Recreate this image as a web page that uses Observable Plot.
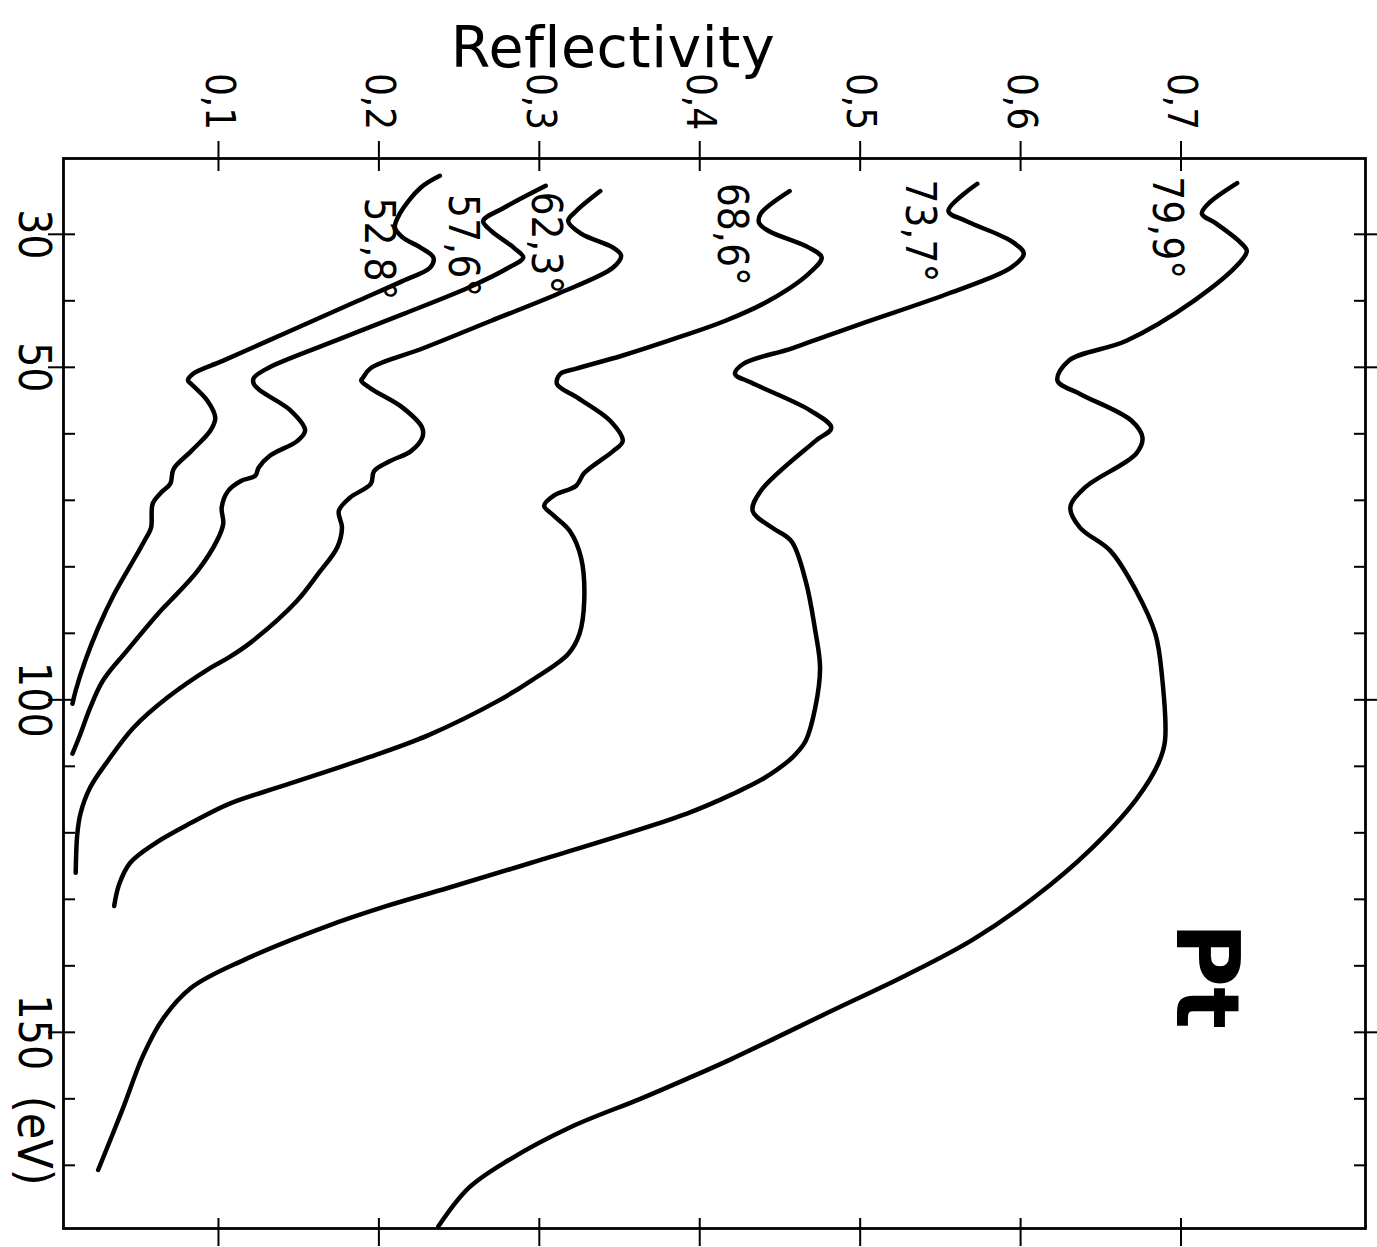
<!DOCTYPE html>
<html><head><meta charset="utf-8">
<script src="https://cdn.jsdelivr.net/npm/d3@7"></script>
<script src="https://cdn.jsdelivr.net/npm/@observablehq/plot@0.6"></script>
<style>
body{margin:0;background:#fff;}
#title{width:1226px;height:72px;text-align:center;font-family:"DejaVu Sans",sans-serif;font-size:57px;line-height:57px;padding-top:19px;box-sizing:border-box;color:#000;overflow:visible;white-space:nowrap;letter-spacing:0.5px}
</style></head><body>
<div id="title">Reflectivity</div>
<div id="chart"></div>
<script>
// Reflectivity axis ticks and labels
const rTicks = [0.1, 0.2, 0.3, 0.4, 0.5, 0.6, 0.7];
const rTickLabels = ["0,1", "0,2", "0,3", "0,4", "0,5", "0,6", "0,7"];
// Energy axis ticks (eV)
const eMajor = [30, 50, 100, 150];
const eMajorLabels = ["30", "50", "100", "150"];
const eMinor = [40, 60, 70, 80, 90, 110, 120, 130, 140, 160, 170];
const unitLabel = "(eV)";
const unitE = 166.3;

// Curves: angle of incidence labels
const angles = ["52,8°", "57,6°", "62,3°", "68,6°", "73,7°", "79,9°"];
const labelR = [0.200, 0.252, 0.304, 0.420, 0.537, 0.691];
const labelE = [32.2, 31.7, 31.3, 30.0, 29.5, 29.0];

// 52,8°
const e528 = [21.2, 23.0, 26.9, 29.0, 30.5, 32.0, 33.5, 35.0, 37.0, 40.0, 44.5, 49.0, 51.0, 52.0, 52.5, 55.0, 57.6, 59.5, 62.6, 65.3, 67.5, 68.9, 70.5, 74.1, 75.6, 78.6, 84.1, 89.2, 94.1, 98.6, 100.6];
const r528 = [0.238, 0.226, 0.213, 0.210, 0.215, 0.226, 0.234, 0.232, 0.215, 0.187, 0.145, 0.103, 0.084, 0.081, 0.083, 0.093, 0.098, 0.095, 0.083, 0.072, 0.070, 0.064, 0.059, 0.058, 0.055, 0.048, 0.035, 0.025, 0.017, 0.011, 0.009];
// 57,6°
const e576 = [22.7, 26.0, 28.0, 29.5, 32.0, 33.5, 35.0, 38.0, 42.0, 46.0, 50.1, 51.6, 52.5, 53.5, 56.5, 59.5, 61.1, 63.3, 65.1, 66.3, 67.1, 68.6, 71.1, 73.5, 76.1, 80.6, 85.1, 86.6, 92.6, 97.1, 101.2, 105.1, 108.1];
const r576 = [0.304, 0.278, 0.265, 0.270, 0.284, 0.290, 0.281, 0.256, 0.215, 0.173, 0.131, 0.122, 0.122, 0.126, 0.145, 0.154, 0.149, 0.132, 0.125, 0.123, 0.114, 0.106, 0.102, 0.103, 0.099, 0.087, 0.070, 0.064, 0.043, 0.028, 0.020, 0.014, 0.009];
// 62,3°
const e623 = [23.5, 26.5, 28.0, 29.9, 32.0, 33.2, 35.0, 38.9, 43.0, 47.1, 50.1, 51.6, 52.0, 53.2, 56.1, 59.1, 60.6, 62.6, 64.1, 65.6, 67.5, 69.6, 71.6, 74.1, 77.1, 81.1, 85.1, 91.4, 93.7, 95.2, 99.7, 104.2, 109.2, 113.2, 117.1, 120.2, 126.0];
const r623 = [0.338, 0.323, 0.318, 0.326, 0.346, 0.351, 0.346, 0.312, 0.270, 0.228, 0.195, 0.190, 0.189, 0.195, 0.215, 0.227, 0.227, 0.220, 0.207, 0.197, 0.195, 0.182, 0.175, 0.177, 0.174, 0.162, 0.149, 0.120, 0.106, 0.095, 0.068, 0.047, 0.031, 0.020, 0.014, 0.012, 0.011];
// 68,6°
const e686 = [23.5, 26.9, 28.3, 29.5, 32.0, 33.5, 35.9, 40.0, 43.0, 45.4, 48.3, 50.2, 51.0, 52.5, 54.6, 58.0, 61.1, 62.6, 65.9, 67.8, 69.3, 70.8, 72.3, 74.6, 78.6, 85.1, 90.1, 93.1, 97.1, 100.2, 105.3, 108.7, 112.8, 115.6, 118.5, 121.5, 124.5, 127.8, 131.0];
const r686 = [0.456, 0.438, 0.437, 0.443, 0.468, 0.476, 0.468, 0.443, 0.416, 0.388, 0.351, 0.323, 0.313, 0.311, 0.324, 0.344, 0.352, 0.346, 0.328, 0.323, 0.309, 0.303, 0.309, 0.319, 0.326, 0.328, 0.325, 0.318, 0.295, 0.274, 0.231, 0.193, 0.142, 0.107, 0.083, 0.061, 0.045, 0.038, 0.035];
// 73,7°
const e737 = [22.4, 26.5, 28.0, 31.0, 32.9, 35.0, 38.9, 43.5, 47.1, 49.5, 51.0, 52.3, 56.5, 59.1, 61.1, 68.6, 71.6, 74.1, 76.1, 82.1, 89.6, 95.2, 101.2, 106.2, 108.6, 111.8, 114.0, 117.1, 124.5, 128.3, 131.0, 134.1, 139.1, 143.3, 148.1, 153.5, 161.7, 170.7];
const r737 = [0.573, 0.555, 0.566, 0.594, 0.602, 0.594, 0.555, 0.500, 0.458, 0.427, 0.422, 0.432, 0.469, 0.482, 0.472, 0.438, 0.433, 0.445, 0.457, 0.466, 0.472, 0.475, 0.472, 0.466, 0.458, 0.440, 0.422, 0.392, 0.295, 0.243, 0.205, 0.167, 0.116, 0.083, 0.065, 0.053, 0.040, 0.025];
// 79,9°
const e799 = [22.3, 25.4, 26.9, 28.4, 31.0, 32.5, 34.4, 40.0, 46.0, 49.0, 52.0, 54.0, 58.0, 60.6, 63.0, 68.1, 71.1, 74.1, 77.6, 83.6, 90.1, 96.1, 106.2, 109.5, 115.0, 122.4, 129.8, 136.1, 141.5, 146.8, 154.1, 157.0, 160.0, 164.2, 169.2, 173.4, 179.2];
const r799 = [0.735, 0.717, 0.713, 0.722, 0.736, 0.741, 0.736, 0.708, 0.666, 0.630, 0.623, 0.637, 0.669, 0.676, 0.672, 0.640, 0.631, 0.637, 0.656, 0.672, 0.684, 0.688, 0.690, 0.686, 0.672, 0.644, 0.608, 0.570, 0.528, 0.482, 0.419, 0.392, 0.363, 0.320, 0.281, 0.256, 0.237];

const sample = "Pt";
const sampleR = 0.715, sampleE = 141.5;

const energies = [e528, e576, e623, e686, e737, e799];
const reflect = [r528, r576, r623, r686, r737, r799];
const rows = [];
angles.forEach((a, k) => energies[k].forEach((e, i) => rows.push({angle: a, e, r: reflect[k][i]})));

const narrow = '"Liberation Sans Narrow","DejaVu Sans Condensed",sans-serif';

const chart = Plot.plot({
  width: 1377, height: 1175,
  marginTop: 86, marginBottom: 19, marginLeft: 63, marginRight: 12,
  style: {background: "#fff", color: "#000", fontFamily: narrow},
  x: {domain: [0.0034, 0.815]},
  y: {domain: [18.6, 179.5], reverse: true},
  marks: [
    Plot.frame({stroke: "#000", strokeWidth: 2.8}),
    Plot.axisX({anchor: "top", ticks: rTicks, tickSize: 30, dy: 12, tickFormat: () => "", strokeWidth: 2, label: null}),
    Plot.axisX({anchor: "bottom", ticks: rTicks, tickSize: 28, dy: -10, tickFormat: () => "", strokeWidth: 2, label: null}),
    Plot.axisY({anchor: "left", ticks: eMajor, tickSize: 27, dx: 12, tickFormat: () => "", strokeWidth: 2, label: null}),
    Plot.axisY({anchor: "left", ticks: eMinor, tickSize: 12, dx: 12, tickFormat: () => "", strokeWidth: 2, label: null}),
    Plot.axisY({anchor: "right", ticks: eMajor, tickSize: 27, dx: -12, tickFormat: () => "", strokeWidth: 2, label: null}),
    Plot.axisY({anchor: "right", ticks: eMinor, tickSize: 12, dx: -12, tickFormat: () => "", strokeWidth: 2, label: null}),
    Plot.text(rTicks, {x: d => d, text: (d, i) => rTickLabels[i], frameAnchor: "top", dy: -57, rotate: 90, fontSize: 40, textAnchor: "middle", lineAnchor: "middle"}),
    Plot.text(eMajor, {y: d => d, text: (d, i) => eMajorLabels[i], frameAnchor: "left", dx: -30, rotate: 90, fontSize: 44, textAnchor: "middle", lineAnchor: "middle"}),
    Plot.text([unitLabel], {y: [unitE], text: d => d, frameAnchor: "left", dx: -30, rotate: 90, fontSize: 48, textAnchor: "middle", lineAnchor: "middle"}),
    Plot.line(rows, {x: "r", y: "e", z: "angle", curve: "catmull-rom", stroke: "#000", strokeWidth: 4.5, strokeLinejoin: "round", strokeLinecap: "round"}),
    Plot.text(angles, {x: labelR, y: labelE, text: d => d, rotate: 90, fontSize: 42, textAnchor: "middle", lineAnchor: "middle"}),
    Plot.text([sample], {x: [sampleR], y: [sampleE], text: d => d, rotate: 90, fontSize: 88, fontWeight: "bold", fontFamily: "DejaVu Sans", textAnchor: "middle", lineAnchor: "middle"})
  ]
});
document.getElementById("chart").appendChild(chart);
</script>
</body></html>
